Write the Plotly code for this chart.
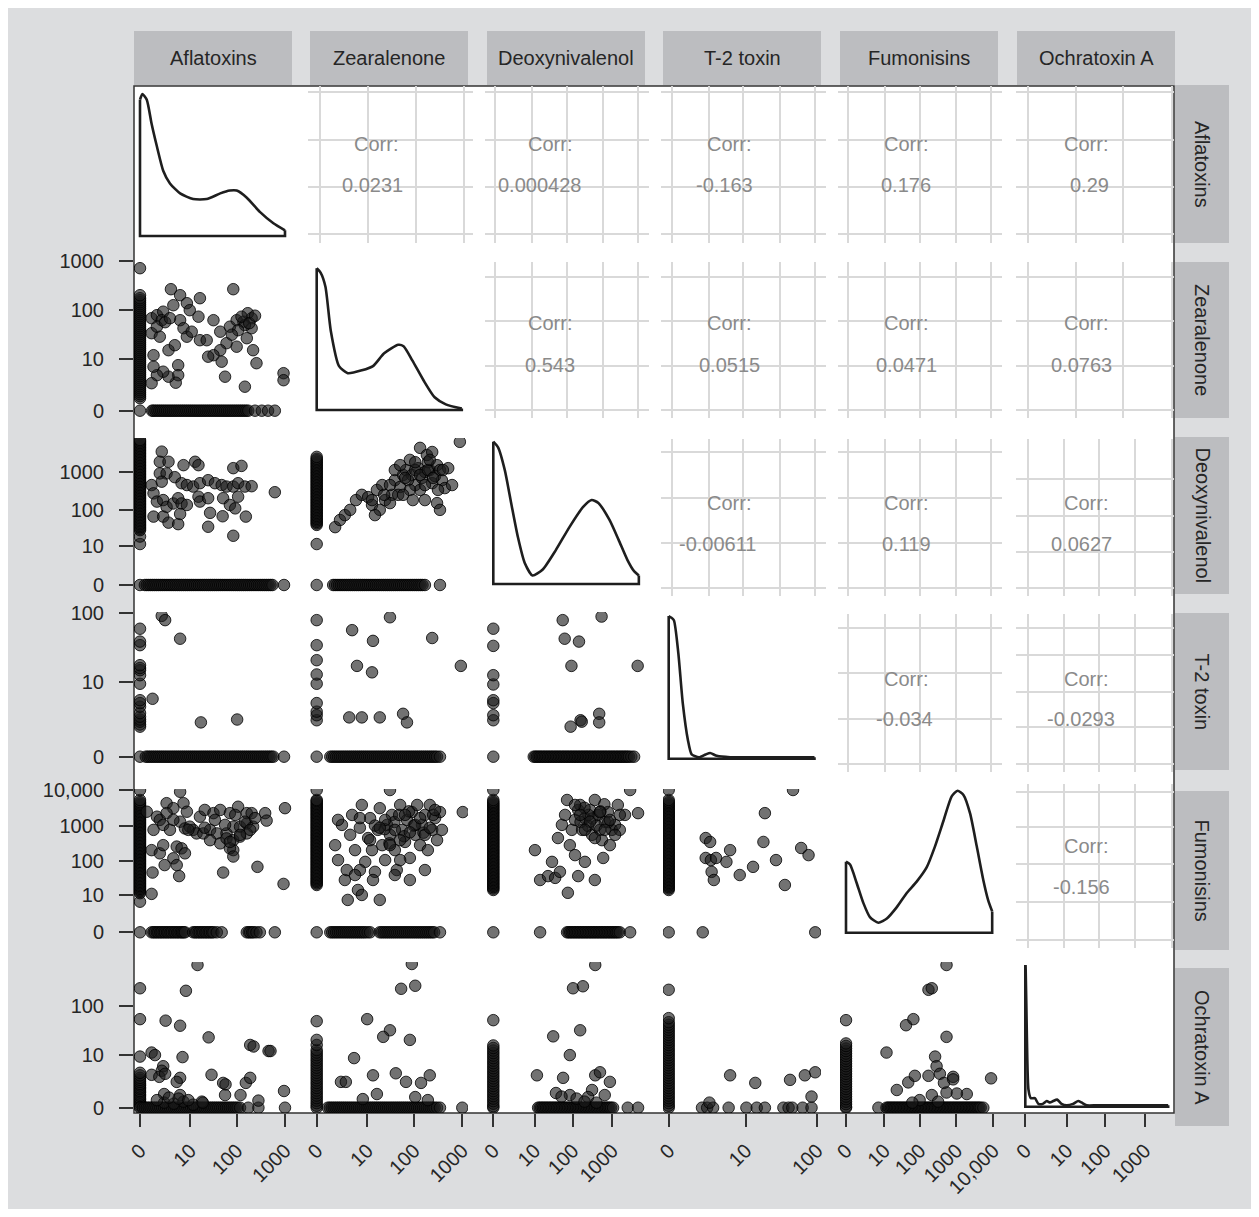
import numpy as np
import plotly.graph_objects as go

# page is 1259x1217; the browser body keeps an 8px margin, so the figure itself is 16px smaller
OFF = 8
W, H = 1259 - 2 * OFF, 1217 - 2 * OFF

# ---------------- labels ----------------
variables = ["Aflatoxins", "Zearalenone", "Deoxynivalenol", "T-2 toxin", "Fumonisins", "Ochratoxin A"]
tick_afla = [0, 10, 100, 1000]
tick_zea = [0, 10, 100, 1000]
tick_don = [0, 10, 100, 1000]
tick_t2 = [0, 10, 100]
tick_fum = [0, 10, 100, 1000, 10000]
tick_ota = [0, 10, 100, 1000]

corr_cells = [(0, 1), (0, 2), (0, 3), (0, 4), (0, 5), (1, 2), (1, 3), (1, 4), (1, 5),
              (2, 3), (2, 4), (2, 5), (3, 4), (3, 5), (4, 5)]
corr_values = ["0.0231", "0.000428", "-0.163", "0.176", "0.29", "0.543", "0.0515", "0.0471", "0.0763",
               "-0.00611", "0.119", "0.0627", "-0.034", "-0.0293", "-0.156"]

# ---------------- data: all values are log10(concentration + 1) ----------------
dens_afla_x = [0, 0.05, 0.14, 0.24, 0.35, 0.48, 0.62, 0.83, 1.10, 1.38, 1.66, 1.86, 2.00, 2.21, 2.48, 2.76, 3.00]
dens_afla_y = [0.96, 1.0, 0.96, 0.79, 0.63, 0.46, 0.37, 0.30, 0.26, 0.26, 0.30, 0.32, 0.32, 0.27, 0.17, 0.09, 0.04]
dens_zea_x = [0, 0.08, 0.18, 0.29, 0.46, 0.64, 0.93, 1.16, 1.39, 1.68, 1.79, 1.97, 2.20, 2.43, 2.66, 2.99]
dens_zea_y = [1.0, 0.97, 0.87, 0.56, 0.31, 0.26, 0.28, 0.31, 0.40, 0.46, 0.45, 0.35, 0.21, 0.09, 0.04, 0.01]
dens_don_x = [0, 0.12, 0.29, 0.45, 0.62, 0.79, 0.99, 1.24, 1.58, 1.92, 2.26, 2.48, 2.65, 2.93, 3.16, 3.38, 3.55, 3.67]
dens_don_y = [1.0, 0.96, 0.80, 0.57, 0.33, 0.15, 0.06, 0.10, 0.24, 0.40, 0.54, 0.59, 0.57, 0.45, 0.31, 0.17, 0.09, 0.06]
dens_t2_x = [0, 0.03, 0.07, 0.13, 0.19, 0.26, 0.31, 0.41, 0.50, 0.56, 0.65, 0.83, 1.20, 1.60, 1.97]
dens_t2_y = [1.0, 0.99, 0.97, 0.74, 0.39, 0.13, 0.03, 0.01, 0.03, 0.04, 0.02, 0.01, 0.01, 0.01, 0.01]
dens_fum_x = [0, 0.11, 0.29, 0.47, 0.65, 0.88, 1.11, 1.38, 1.65, 1.92, 2.19, 2.42, 2.65, 2.87, 3.03, 3.19, 3.37, 3.55, 3.73, 3.86, 3.97]
dens_fum_y = [0.50, 0.48, 0.35, 0.21, 0.11, 0.07, 0.10, 0.18, 0.28, 0.36, 0.46, 0.61, 0.79, 0.96, 1.0, 0.97, 0.84, 0.61, 0.37, 0.23, 0.15]
dens_ota_x = [0, 0.01, 0.04, 0.08, 0.14, 0.24, 0.33, 0.44, 0.54, 0.62, 0.70, 0.80, 0.91, 1.04, 1.20, 1.33, 1.41, 1.54, 1.79, 2.13, 2.38, 2.88, 3.01, 3.13, 3.59]
dens_ota_y = [1.0, 0.96, 0.49, 0.12, 0.06, 0.06, 0.02, 0.02, 0.04, 0.03, 0.04, 0.05, 0.02, 0.01, 0.02, 0.04, 0.03, 0.01, 0.01, 0.01, 0.01, 0.01, 0.01, 0.01, 0.01]

# ---- Zearalenone (y) vs Aflatoxins (x); *_x0: y values where x = 0, *_y0: x values where y = 0
zea_afla_x0 = [0, 0.25, 0.29, 0.33, 0.37, 0.41, 0.45, 0.49, 0.53, 0.57, 0.61, 0.65, 0.69, 0.73, 0.77, 0.81, 0.85,
               0.89, 0.93, 0.97, 1.01, 1.05, 1.09, 1.13, 1.17, 1.21, 1.25, 1.29, 1.33, 1.37, 1.41, 1.45, 1.49, 1.53,
               1.57, 1.61, 1.65, 1.69, 1.73, 1.77, 1.81, 1.85, 1.89, 1.93, 1.97, 2.01, 2.05, 2.09, 2.13, 2.17, 2.21,
               2.25, 2.31, 2.85]
zea_afla_y0 = [0.25, 0.28, 0.32, 0.36, 0.40, 0.44, 0.48, 0.52, 0.56, 0.60, 0.64, 0.68, 0.72, 0.76, 0.80, 0.84, 0.88,
               0.92, 0.96, 1.00, 1.04, 1.08, 1.12, 1.16, 1.20, 1.24, 1.28, 1.32, 1.36, 1.40, 1.44, 1.48, 1.52, 1.56,
               1.60, 1.64, 1.68, 1.72, 1.76, 1.80, 1.84, 1.88, 1.92, 1.96, 2.00, 2.04, 2.08, 2.12, 2.16, 2.20, 2.24,
               2.38, 2.52, 2.65, 2.79]
zea_afla_pts = [(0.64, 2.43), (0.83, 2.31), (1.24, 2.25), (1.93, 2.43), (0.69, 2.11), (0.97, 2.15), (1.03, 2.01),
                (1.21, 1.88), (1.52, 1.81), (0.24, 1.85), (0.35, 1.91), (0.48, 1.98), (0.45, 1.81), (0.83, 1.81),
                (0.90, 1.65), (0.97, 1.48), (1.07, 1.58), (1.24, 1.41), (1.38, 1.41), (1.66, 1.58), (1.86, 1.68),
                (2.00, 1.81), (2.14, 1.78), (2.31, 1.85), (2.31, 1.65), (2.21, 1.45), (2.00, 1.28), (1.79, 1.35),
                (1.66, 1.21), (1.69, 0.98), (1.52, 1.11), (1.41, 1.08), (2.34, 1.21), (2.41, 0.95), (2.17, 0.48),
                (1.76, 0.68), (0.79, 0.91), (0.79, 0.71), (0.74, 0.56), (0.59, 0.68), (0.48, 0.78), (0.35, 0.71),
                (0.24, 0.55), (0.28, 0.88), (0.28, 1.11), (0.59, 1.21), (0.72, 1.31), (0.24, 1.55), (0.41, 1.48),
                (0.35, 1.68), (2.97, 0.75), (2.97, 0.61), (2.23, 1.95), (2.17, 1.71), (2.03, 1.61), (0.52, 1.77),
                (0.62, 1.85), (2.10, 1.88), (2.26, 1.75), (2.38, 1.90), (1.90, 1.52)]

# ---- Deoxynivalenol (y) vs Aflatoxins (x)
don_afla_x0 = [0, 1.09, 1.29, 1.46, 1.50, 1.54, 1.58, 1.62, 1.66, 1.70, 1.74, 1.78, 1.82, 1.86, 1.90, 1.94, 1.98,
               2.02, 2.06, 2.10, 2.14, 2.18, 2.22, 2.26, 2.30, 2.34, 2.38, 2.42, 2.46, 2.50, 2.54, 2.58, 2.62, 2.66,
               2.70, 2.74, 2.78, 2.82, 2.86, 2.90, 2.94, 2.98, 3.02, 3.06, 3.10, 3.14, 3.18, 3.22, 3.26, 3.30, 3.34,
               3.38, 3.42, 3.46, 3.50, 3.54, 3.58, 3.62, 3.66, 3.70, 3.74, 3.78, 3.82, 3.86]
don_afla_y0 = [0.10, 0.14, 0.18, 0.22, 0.26, 0.30, 0.34, 0.38, 0.42, 0.46, 0.50, 0.54, 0.58, 0.62, 0.66, 0.70, 0.74,
               0.78, 0.82, 0.86, 0.90, 0.94, 0.98, 1.02, 1.06, 1.10, 1.14, 1.18, 1.22, 1.26, 1.30, 1.34, 1.38, 1.42,
               1.46, 1.50, 1.54, 1.58, 1.62, 1.66, 1.70, 1.74, 1.78, 1.82, 1.86, 1.90, 1.94, 1.98, 2.02, 2.06, 2.10,
               2.14, 2.18, 2.22, 2.26, 2.30, 2.34, 2.38, 2.42, 2.46, 2.50, 2.54, 2.58, 2.62, 2.66, 2.70, 2.74, 2.98]
don_afla_pts = [(0.45, 3.55), (0.41, 3.28), (0.59, 3.28), (0.90, 3.19), (1.14, 3.28), (1.21, 3.19), (1.93, 3.11),
                (2.10, 3.17), (0.41, 2.97), (0.55, 2.97), (0.24, 2.66), (0.45, 2.75), (0.72, 2.87), (0.86, 2.71),
                (0.97, 2.66), (1.10, 2.62), (1.24, 2.71), (1.41, 2.79), (1.55, 2.71), (1.69, 2.66), (1.79, 2.62),
                (1.93, 2.62), (2.03, 2.71), (2.17, 2.62), (2.31, 2.63), (2.79, 2.47), (0.28, 2.44), (0.35, 2.22),
                (0.48, 2.26), (0.55, 2.08), (0.69, 2.17), (0.79, 2.31), (0.86, 2.17), (0.97, 2.13), (0.28, 1.82),
                (0.48, 1.82), (0.59, 1.66), (0.79, 1.62), (0.83, 1.89), (1.21, 2.35), (1.24, 2.22), (1.41, 2.31),
                (1.45, 1.92), (1.41, 1.55), (1.71, 1.83), (1.72, 2.31), (1.86, 2.13), (1.97, 2.04), (1.93, 1.31),
                (2.19, 1.82), (2.03, 2.35)]

# ---- T-2 toxin (y) vs Aflatoxins (x)
t2_afla_x0 = [0, 0.42, 0.45, 0.49, 0.52, 0.56, 0.61, 0.70, 0.75, 0.79, 1.02, 1.14, 1.21, 1.24, 1.28, 1.56, 1.61, 1.79]
t2_afla_y0 = [0.12, 0.16, 0.20, 0.24, 0.28, 0.32, 0.36, 0.40, 0.44, 0.48, 0.52, 0.56, 0.60, 0.64, 0.68, 0.72, 0.76,
              0.80, 0.84, 0.88, 0.92, 0.96, 1.00, 1.04, 1.08, 1.12, 1.16, 1.20, 1.24, 1.28, 1.32, 1.36, 1.40, 1.44,
              1.48, 1.52, 1.56, 1.60, 1.64, 1.68, 1.72, 1.76, 1.80, 1.84, 1.88, 1.92, 1.96, 2.00, 2.04, 2.08, 2.12,
              2.16, 2.20, 2.24, 2.28, 2.32, 2.36, 2.40, 2.44, 2.48, 2.52, 2.56, 2.60, 2.64, 2.68, 2.72, 2.76, 2.98]
t2_afla_pts = [(0.45, 1.97), (0.52, 1.91), (0.83, 1.65), (0.26, 0.81), (1.26, 0.48), (2.01, 0.52)]

# ---- Fumonisins (y) vs Aflatoxins (x)
fum_afla_x0 = [0, 0.86, 1.10, 1.14, 1.18, 1.22, 1.26, 1.30, 1.34, 1.38, 1.42, 1.46, 1.50, 1.54, 1.58, 1.62, 1.66,
               1.70, 1.74, 1.78, 1.82, 1.86, 1.90, 1.94, 1.98, 2.02, 2.06, 2.10, 2.14, 2.18, 2.22, 2.26, 2.30, 2.34,
               2.38, 2.42, 2.46, 2.50, 2.54, 2.58, 2.62, 2.66, 2.70, 2.74, 2.78, 2.82, 2.86, 2.90, 2.94, 2.98, 3.02,
               3.06, 3.10, 3.14, 3.18, 3.22, 3.26, 3.30, 3.34, 3.38, 3.42, 3.46, 3.50, 3.54, 3.58, 3.62, 3.66, 3.72,
               4.00]
fum_afla_y0 = [0.24, 0.28, 0.31, 0.35, 0.38, 0.42, 0.45, 0.49, 0.52, 0.56, 0.59, 0.63, 0.66, 0.70, 0.73, 0.77, 0.80,
               0.84, 0.87, 0.90, 0.93, 1.10, 1.14, 1.17, 1.21, 1.24, 1.28, 1.31, 1.35, 1.38, 1.42, 1.45, 1.49, 1.52,
               1.59, 1.69, 2.21, 2.25, 2.28, 2.32, 2.35, 2.41, 2.48, 2.79]
fum_afla_pts = [(0.14, 3.39), (0.35, 3.25), (0.55, 3.63), (0.69, 3.49), (0.83, 3.95), (0.90, 3.63), (0.97, 3.39),
                (0.41, 3.16), (0.48, 3.02), (0.28, 2.88), (0.62, 2.88), (0.83, 3.11), (0.93, 2.92), (1.10, 2.88),
                (1.24, 3.25), (1.34, 3.44), (1.52, 3.35), (1.66, 3.44), (1.86, 3.35), (2.03, 3.53), (2.21, 3.35),
                (2.31, 3.35), (2.59, 3.35), (2.62, 3.14), (3.00, 3.49), (1.03, 2.97), (1.17, 2.78), (1.31, 2.78),
                (1.45, 2.88), (1.59, 2.78), (1.79, 2.78), (1.93, 2.97), (2.07, 2.97), (2.21, 3.06), (2.34, 2.97),
                (1.45, 2.59), (1.66, 2.50), (1.79, 2.64), (1.93, 2.59), (2.07, 2.69), (2.21, 2.78), (1.93, 2.31),
                (1.86, 2.36), (1.93, 2.13), (0.24, 2.31), (0.41, 2.22), (0.48, 2.45), (0.76, 2.41), (0.86, 2.36),
                (0.93, 2.22), (0.69, 2.08), (0.76, 1.89), (0.51, 1.89), (0.26, 1.68), (0.81, 1.58), (1.72, 1.68),
                (2.43, 1.84), (2.97, 1.36), (0.24, 1.08), (1.00, 2.88), (0.55, 3.35), (0.69, 3.16),
                (1.55, 3.16), (1.76, 3.02), (1.97, 3.30), (2.17, 3.11), (2.38, 3.21), (2.07, 2.74), (2.28, 2.88),
                (1.34, 2.94), (1.86, 2.54)]

# ---- Ochratoxin A (y) vs Aflatoxins (x)
ota_afla_x0 = [0.02, 0.05, 0.09, 0.12, 0.16, 0.19, 0.23, 0.26, 0.30, 0.33, 0.37, 0.40, 0.44, 0.47, 0.51, 0.55, 0.59,
               0.64, 0.69, 1.01, 1.75, 2.36]
ota_afla_y0 = [0, 0.06, 0.10, 0.14, 0.18, 0.22, 0.26, 0.30, 0.34, 0.38, 0.42, 0.46, 0.50, 0.54, 0.58, 0.62, 0.66,
               0.70, 0.74, 0.78, 0.82, 0.86, 0.90, 0.94, 0.98, 1.02, 1.06, 1.10, 1.14, 1.18, 1.22, 1.26, 1.30, 1.34,
               1.38, 1.42, 1.46, 1.50, 1.54, 1.58, 1.62, 1.66, 1.70, 1.74, 1.78, 1.82, 1.86, 1.90, 1.94, 1.98, 2.02,
               2.07, 2.24, 2.45, 3.00]
ota_afla_pts = [(1.19, 2.82), (0.95, 2.31), (0.53, 1.72), (0.83, 1.62), (1.42, 1.39), (0.88, 1.00), (0.24, 1.09),
                (0.31, 1.04), (2.28, 1.24), (2.35, 1.21), (2.66, 1.12), (2.70, 1.12), (0.48, 0.82), (0.45, 0.73),
                (0.24, 0.65), (0.40, 0.61), (0.52, 0.67), (0.83, 0.59), (0.76, 0.51), (1.48, 0.65), (1.72, 0.49),
                (1.77, 0.46), (1.76, 0.25), (2.08, 0.25), (2.19, 0.49), (2.28, 0.59), (2.45, 0.14), (2.98, 0.33),
                (0.50, 0.27), (0.83, 0.25), (1.28, 0.12), (0.50, 0.10), (0.70, 0.08), (0.90, 0.12), (1.10, 0.06),
                (1.30, 0.10), (0.35, 0.15), (0.60, 0.20), (0.80, 0.18), (1.00, 0.15)]

# ---- Deoxynivalenol (y) vs Zearalenone (x)
don_zea_x0 = [0, 1.09, 1.60, 1.64, 1.68, 1.72, 1.76, 1.80, 1.84, 1.88, 1.92, 1.96, 2.00, 2.04, 2.08, 2.12, 2.16,
              2.20, 2.24, 2.28, 2.32, 2.36, 2.40, 2.44, 2.48, 2.52, 2.56, 2.60, 2.64, 2.68, 2.72, 2.76, 2.80, 2.84,
              2.88, 2.92, 2.96, 3.00, 3.04, 3.08, 3.12, 3.16, 3.20, 3.24, 3.28, 3.32, 3.36, 3.41]
don_zea_y0 = [0.34, 0.38, 0.42, 0.46, 0.50, 0.54, 0.58, 0.62, 0.66, 0.70, 0.74, 0.78, 0.82, 0.86, 0.90, 0.94, 0.98,
              1.02, 1.06, 1.10, 1.14, 1.18, 1.22, 1.26, 1.30, 1.34, 1.38, 1.42, 1.46, 1.50, 1.54, 1.58, 1.62, 1.66,
              1.70, 1.74, 1.78, 1.82, 1.86, 1.90, 1.94, 1.98, 2.02, 2.06, 2.10, 2.14, 2.18, 2.23, 2.54]
don_zea_pts = [(0.38, 1.54), (0.48, 1.73), (0.58, 1.86), (0.69, 2.00), (0.81, 2.26), (0.93, 2.40), (1.06, 2.34),
               (1.14, 2.13), (1.24, 2.53), (1.35, 2.66), (1.41, 2.26), (1.55, 2.40), (1.61, 2.79), (1.72, 2.61),
               (1.78, 2.93), (1.84, 3.06), (1.92, 3.33), (1.96, 2.93), (2.03, 2.66), (2.09, 3.11), (2.13, 2.53),
               (2.17, 2.85), (2.23, 3.01), (2.29, 3.27), (2.33, 3.06), (2.38, 2.71), (2.44, 2.90), (2.48, 3.19),
               (2.54, 3.06), (2.58, 2.79), (2.64, 2.58), (1.30, 2.00), (1.51, 2.18), (1.68, 2.40), (1.88, 2.79),
               (2.03, 3.06), (2.23, 2.26), (2.48, 2.18), (2.54, 2.00), (2.71, 3.11), (2.79, 2.66), (2.95, 3.81),
               (1.20, 1.86), (2.13, 3.65), (2.27, 3.46), (2.38, 3.54),
               (1.61, 3.06), (1.72, 3.19), (1.82, 2.85), (1.92, 2.53), (2.03, 3.27), (2.13, 2.93), (2.23, 2.66),
               (2.29, 3.06), (2.40, 2.85), (2.50, 2.53), (2.60, 3.06), (1.98, 2.26), (1.78, 2.40), (1.51, 2.66),
               (1.39, 2.40), (1.14, 2.26), (2.33, 3.33)]

# ---- T-2 toxin (y) vs Zearalenone (x)
t2_zea_x0 = [0, 0.51, 0.58, 0.63, 0.75, 1.02, 1.15, 1.35, 1.56, 1.91]
t2_zea_y0 = [0.28, 0.32, 0.36, 0.40, 0.44, 0.48, 0.52, 0.56, 0.60, 0.64, 0.68, 0.72, 0.76, 0.80, 0.84, 0.88, 0.92,
             0.96, 1.00, 1.04, 1.08, 1.12, 1.16, 1.20, 1.24, 1.28, 1.32, 1.36, 1.40, 1.44, 1.48, 1.52, 1.56, 1.60,
             1.64, 1.68, 1.72, 1.76, 1.80, 1.84, 1.88, 1.92, 1.96, 2.00, 2.04, 2.08, 2.12, 2.16, 2.20, 2.24, 2.28,
             2.32, 2.36, 2.40, 2.44, 2.48, 2.54]
t2_zea_pts = [(0.73, 1.77), (1.51, 1.95), (1.16, 1.62), (0.83, 1.27), (1.14, 1.18), (0.67, 0.55), (0.93, 0.55),
              (1.30, 0.55), (1.78, 0.60), (1.86, 0.48), (2.38, 1.66), (2.97, 1.27)]

# ---- Fumonisins (y) vs Zearalenone (x)
fum_zea_x0 = [0, 1.33, 1.37, 1.41, 1.45, 1.49, 1.53, 1.57, 1.61, 1.65, 1.69, 1.73, 1.77, 1.81, 1.85, 1.89, 1.93,
              1.97, 2.01, 2.05, 2.09, 2.13, 2.17, 2.21, 2.25, 2.29, 2.33, 2.37, 2.41, 2.45, 2.49, 2.53, 2.57, 2.61,
              2.65, 2.69, 2.73, 2.77, 2.81, 2.85, 2.89, 2.93, 2.97, 3.01, 3.05, 3.09, 3.13, 3.17, 3.21, 3.25, 3.29,
              3.33, 3.37, 3.41, 3.45, 3.49, 3.53, 3.57, 3.61, 3.65, 3.69, 3.72, 4.00]
fum_zea_y0 = [0.28, 0.32, 0.36, 0.40, 0.44, 0.48, 0.52, 0.56, 0.60, 0.64, 0.68, 0.72, 0.76, 0.80, 0.84, 0.88, 0.92,
              0.96, 1.00, 1.05, 1.10, 1.30, 1.34, 1.38, 1.42, 1.46, 1.50, 1.54, 1.58, 1.62, 1.66, 1.70, 1.74, 1.78,
              1.82, 1.86, 1.90, 1.94, 1.98, 2.02, 2.06, 2.10, 2.14, 2.18, 2.22, 2.26, 2.30, 2.34, 2.38, 2.42, 2.54]
fum_zea_pts = [(0.38, 2.45), (0.44, 2.03), (0.52, 3.02), (0.58, 1.47), (0.62, 1.75), (0.69, 2.74), (0.73, 3.30),
               (0.79, 2.31), (0.85, 1.19), (0.89, 2.94), (0.93, 3.58), (1.00, 1.98), (1.06, 2.65), (1.10, 3.21),
               (1.14, 2.31), (1.20, 1.70), (1.26, 2.88), (1.30, 3.49), (1.35, 2.45), (1.41, 2.03), (1.45, 3.02),
               (1.51, 2.74), (1.55, 3.30), (1.61, 2.31), (1.65, 1.75), (1.72, 3.58), (1.76, 2.88), (1.82, 2.54),
               (1.86, 3.16), (1.92, 2.09), (1.96, 3.38), (2.03, 2.74), (2.07, 3.58), (2.13, 2.45), (2.17, 3.02),
               (2.23, 3.30), (2.29, 2.31), (2.33, 3.58), (2.38, 2.88), (2.44, 3.21), (2.48, 2.59), (2.54, 3.38),
               (2.58, 2.88), (0.93, 1.05), (1.16, 1.47), (1.61, 1.61), (0.89, 1.75), (0.64, 0.91), (1.30, 0.91),
               (0.79, 1.61), (0.44, 3.16), (1.72, 2.03), (1.51, 4.00), (3.01, 3.38), (2.23, 1.75), (1.92, 1.47),
               (1.40, 2.90), (1.60, 3.10), (1.80, 2.70), (2.00, 3.00), (1.20, 3.00), (1.70, 3.30), (2.20, 2.80),
               (2.40, 3.30), (1.90, 3.40), (1.50, 2.50),
               (1.41, 3.16), (1.61, 2.88), (1.82, 3.30), (2.03, 3.02), (2.23, 2.74), (1.72, 2.59), (1.92, 2.81),
               (2.13, 3.21), (2.33, 2.94), (1.51, 2.45), (1.30, 2.94), (1.10, 2.59), (2.44, 3.44), (0.89, 3.21)]

# ---- Ochratoxin A (y) vs Zearalenone (x)
ota_zea_x0 = [0, 0.04, 0.09, 0.14, 0.19, 0.24, 0.29, 0.34, 0.39, 0.44, 0.49, 0.54, 0.59, 0.64, 0.69, 0.74, 0.79,
              0.84, 0.89, 0.94, 0.99, 1.04, 1.09, 1.14, 1.24, 1.34, 1.71]
ota_zea_y0 = [0.23, 0.27, 0.31, 0.35, 0.39, 0.43, 0.47, 0.51, 0.55, 0.59, 0.63, 0.67, 0.71, 0.75, 0.79, 0.83, 0.87,
              0.91, 0.95, 0.99, 1.03, 1.07, 1.11, 1.15, 1.19, 1.23, 1.27, 1.31, 1.35, 1.39, 1.43, 1.47, 1.51, 1.55,
              1.59, 1.63, 1.67, 1.71, 1.75, 1.79, 1.83, 1.87, 1.91, 1.95, 1.99, 2.03, 2.07, 2.11, 2.15, 2.19, 2.23,
              2.27, 2.31, 2.35, 2.39, 2.43, 2.48, 2.54, 3.00]
ota_zea_pts = [(1.96, 2.84), (1.74, 2.35), (2.03, 2.41), (1.04, 1.75), (1.51, 1.53), (1.37, 1.40), (1.92, 1.34),
               (0.50, 0.51), (0.60, 0.51), (0.77, 0.98), (1.16, 0.64), (1.63, 0.68), (1.84, 0.51), (2.15, 0.49),
               (2.33, 0.64), (2.03, 0.21), (2.29, 0.15), (1.24, 0.27), (0.95, 0.17)]

# ---- T-2 toxin (y) vs Deoxynivalenol (x)
t2_don_x0 = [0, 0.51, 0.58, 0.75, 0.79, 1.01, 1.14, 1.55, 1.79]
t2_don_y0 = [1.02, 1.06, 1.10, 1.14, 1.18, 1.22, 1.26, 1.30, 1.34, 1.38, 1.42, 1.46, 1.50, 1.54, 1.58, 1.62, 1.66,
             1.70, 1.74, 1.78, 1.82, 1.86, 1.90, 1.94, 1.98, 2.02, 2.06, 2.10, 2.14, 2.18, 2.22, 2.26, 2.30, 2.34,
             2.38, 2.42, 2.46, 2.50, 2.54, 2.58, 2.62, 2.66, 2.70, 2.74, 2.78, 2.82, 2.86, 2.90, 2.94, 2.98, 3.02,
             3.06, 3.10, 3.14, 3.18, 3.22, 3.26, 3.30, 3.34, 3.38, 3.42, 3.48, 3.55]
t2_don_pts = [(1.75, 1.91), (2.73, 1.96), (1.80, 1.65), (2.16, 1.61), (1.97, 1.27), (3.64, 1.27), (2.20, 0.51),
              (1.95, 0.42), (2.67, 0.60), (2.67, 0.48), (2.23, 0.49)]

# ---- Fumonisins (y) vs Deoxynivalenol (x)
fum_don_x0 = [0, 1.19, 1.23, 1.27, 1.31, 1.35, 1.39, 1.43, 1.47, 1.51, 1.55, 1.59, 1.63, 1.67, 1.71, 1.75, 1.79,
              1.83, 1.87, 1.91, 1.95, 1.99, 2.03, 2.07, 2.11, 2.15, 2.19, 2.23, 2.27, 2.31, 2.35, 2.39, 2.43, 2.47,
              2.51, 2.55, 2.59, 2.63, 2.67, 2.71, 2.75, 2.79, 2.83, 2.87, 2.91, 2.95, 2.99, 3.03, 3.07, 3.11, 3.15,
              3.19, 3.23, 3.27, 3.31, 3.35, 3.39, 3.43, 3.47, 3.51, 3.55, 3.59, 3.63, 3.67, 3.72, 4.00]
fum_don_y0 = [1.18, 1.86, 1.90, 1.94, 1.98, 2.02, 2.06, 2.10, 2.14, 2.18, 2.22, 2.26, 2.30, 2.34, 2.38, 2.42, 2.46,
              2.50, 2.54, 2.58, 2.62, 2.66, 2.70, 2.74, 2.78, 2.82, 2.86, 2.90, 2.94, 2.98, 3.02, 3.06, 3.10, 3.14,
              3.19, 3.45]
fum_don_pts = [(1.05, 2.31), (1.18, 1.47), (1.38, 1.58), (1.48, 1.98), (1.56, 1.53), (1.63, 2.65), (1.73, 3.02),
               (1.81, 3.30), (1.86, 3.72), (1.93, 2.45), (1.98, 2.88), (2.06, 3.16), (2.14, 3.44), (2.19, 3.58),
               (2.24, 2.88), (2.31, 3.21), (2.39, 2.99), (2.44, 3.44), (2.49, 2.74), (2.56, 3.72), (2.64, 3.30),
               (2.69, 2.88), (2.74, 2.59), (2.81, 3.11), (2.89, 3.38), (2.94, 2.45), (2.99, 2.88), (3.07, 3.02),
               (3.14, 3.58), (3.19, 2.88), (3.32, 3.30), (3.45, 4.00), (3.65, 3.35), (2.06, 2.17), (2.31, 1.98),
               (2.56, 1.47), (1.88, 1.11), (1.68, 1.70), (2.14, 1.58), (2.77, 2.09), (2.20, 3.10), (2.50, 3.20),
               (2.60, 3.00), (2.40, 3.30), (2.70, 3.40), (2.90, 3.10), (2.30, 3.50), (2.80, 3.60),
               (2.19, 3.30), (2.44, 3.11), (2.69, 3.38), (2.94, 3.16), (2.31, 2.88), (2.56, 2.65), (2.81, 2.88),
               (3.07, 2.74), (2.06, 3.58), (3.19, 3.30)]

# ---- Ochratoxin A (y) vs Deoxynivalenol (x)
ota_don_x0 = [0, 0.03, 0.08, 0.13, 0.18, 0.23, 0.28, 0.33, 0.38, 0.43, 0.48, 0.53, 0.58, 0.63, 0.68, 0.73, 0.78,
              0.83, 0.88, 0.93, 0.98, 1.03, 1.08, 1.13, 1.18, 1.23, 1.73]
ota_don_y0 = [1.13, 1.17, 1.21, 1.25, 1.29, 1.33, 1.37, 1.41, 1.45, 1.49, 1.53, 1.57, 1.61, 1.65, 1.69, 1.73, 1.77,
              1.81, 1.85, 1.89, 1.93, 1.97, 2.01, 2.05, 2.09, 2.13, 2.17, 2.21, 2.25, 2.29, 2.33, 2.37, 2.41, 2.45,
              2.49, 2.53, 2.57, 2.61, 2.65, 2.69, 2.73, 2.77, 2.81, 2.85, 2.89, 2.93, 2.97, 3.02, 3.39, 3.65]
ota_don_pts = [(2.57, 2.82), (2.01, 2.36), (2.26, 2.40), (1.51, 1.41), (2.19, 1.53), (1.93, 1.04), (1.10, 0.64),
               (1.76, 0.59), (2.57, 0.64), (2.69, 0.70), (2.94, 0.51), (2.49, 0.35), (1.58, 0.29), (1.93, 0.25),
               (2.39, 0.21), (2.81, 0.25), (1.72, 0.22), (2.10, 0.18), (2.30, 0.12), (2.60, 0.10)]

# ---- Fumonisins (y) vs T-2 toxin (x)
fum_t2_x0 = [0, 1.19, 1.23, 1.27, 1.31, 1.35, 1.39, 1.43, 1.47, 1.51, 1.55, 1.59, 1.63, 1.67, 1.71, 1.75, 1.79,
             1.83, 1.87, 1.91, 1.95, 1.99, 2.03, 2.07, 2.11, 2.15, 2.19, 2.23, 2.27, 2.31, 2.35, 2.39, 2.43, 2.47,
             2.51, 2.55, 2.59, 2.63, 2.67, 2.71, 2.75, 2.79, 2.83, 2.87, 2.91, 2.95, 2.99, 3.03, 3.07, 3.11, 3.15,
             3.19, 3.23, 3.27, 3.31, 3.35, 3.39, 3.43, 3.47, 3.51, 3.55, 3.59, 3.63, 3.67, 3.72, 4.00]
fum_t2_y0 = [0.46, 1.98]
fum_t2_pts = [(0.50, 2.65), (0.56, 2.54), (0.50, 2.09), (0.57, 2.03), (0.64, 2.09), (0.58, 1.70), (0.61, 1.47),
              (0.78, 1.98), (0.83, 2.31), (0.96, 1.61), (1.14, 1.84), (1.28, 2.54), (1.45, 2.03), (1.57, 1.33),
              (1.68, 4.00), (1.30, 3.35), (1.79, 2.37), (1.89, 2.17)]

# ---- Ochratoxin A (y) vs T-2 toxin (x)
ota_t2_x0 = [0, 0.04, 0.09, 0.14, 0.19, 0.24, 0.29, 0.34, 0.39, 0.44, 0.49, 0.54, 0.59, 0.64, 0.69, 0.74, 0.79,
             0.84, 0.89, 0.94, 0.99, 1.04, 1.09, 1.14, 1.19, 1.24, 1.29, 1.34, 1.39, 1.44, 1.49, 1.54, 1.59, 1.64,
             1.69, 1.77, 2.33]
ota_t2_y0 = [0.45, 0.52, 0.60, 0.81, 1.05, 1.19, 1.30, 1.55, 1.62, 1.67, 1.81, 1.93]
ota_t2_pts = [(0.83, 0.64), (1.17, 0.49), (1.64, 0.55), (1.84, 0.64), (1.98, 0.70), (1.93, 0.22), (0.55, 0.10)]

# ---- Ochratoxin A (y) vs Fumonisins (x)
ota_fum_x0 = [0, 0.02, 0.07, 0.12, 0.17, 0.22, 0.27, 0.32, 0.37, 0.42, 0.47, 0.52, 0.57, 0.62, 0.67, 0.72, 0.77,
              0.82, 0.87, 0.92, 0.97, 1.02, 1.07, 1.12, 1.17, 1.22, 1.27, 1.73]
ota_fum_y0 = [0.88, 1.10, 1.14, 1.18, 1.22, 1.26, 1.30, 1.34, 1.38, 1.42, 1.46, 1.50, 1.54, 1.58, 1.62, 1.66, 1.70,
              1.74, 1.78, 1.82, 1.86, 1.90, 1.94, 1.98, 2.02, 2.06, 2.10, 2.14, 2.18, 2.22, 2.26, 2.30, 2.34, 2.38,
              2.42, 2.46, 2.50, 2.54, 2.58, 2.62, 2.66, 2.70, 2.74, 2.78, 2.82, 2.86, 2.90, 2.94, 2.98, 3.02, 3.06,
              3.10, 3.14, 3.18, 3.22, 3.26, 3.30, 3.34, 3.38, 3.42, 3.46, 3.50, 3.54, 3.58, 3.62, 3.66, 3.73]
ota_fum_pts = [(2.73, 2.82), (2.24, 2.33), (2.33, 2.36), (1.63, 1.63), (1.83, 1.75), (2.73, 1.40), (1.10, 1.09),
               (2.42, 1.01), (2.46, 0.82), (1.38, 0.35), (1.69, 0.50), (1.87, 0.63), (2.24, 0.63), (2.55, 0.67),
               (2.66, 0.49), (2.91, 0.61), (2.91, 0.56), (3.94, 0.58), (3.28, 0.27), (3.01, 0.28), (2.33, 0.25),
               (2.73, 0.30), (2.0, 0.15), (2.5, 0.12), (1.8, 0.1)]

# ---------------- layout geometry (page pixels) ----------------
col_px = [(134, 292), (310, 468), (487, 645), (663, 821), (840, 998), (1017, 1174)]
col_cal = [(140, 48.33), (316.7, 48.53), (493.3, 39.66), (668.7, 74.0), (846, 36.82), (1025.3, 39.8)]
row_px = [(86, 243), (259, 419), (438, 595), (612, 771), (789, 948), (962, 1113)]
row_cal = [None, (410.7, 50.0), (585, 37.57), (756.7, 71.5), (932.3, 35.57), (1107.7, 50.6)]
diag_cal = [(236, 142), (410, 141.7), (584, 142.3), (758.7, 142.7), (932.7, 142), (1106.7, 141.7)]
up_col_px = [None, (308, 473), (485, 649), (661, 826), (838, 1002), (1016, 1174)]
up_row_px = [(86, 243), (262, 418), (439, 596), (614, 772), (784, 948)]
strip_top = [(134, 292), (310, 468), (487, 645), (663, 821), (840, 998), (1017, 1175)]
strip_right = [(85, 243), (262, 418), (437, 594), (613, 770), (791, 950), (968, 1126)]


def up_vlines(i, j):
    if j == 1:
        return [319.6, 367.9, 415.6, 464.4]
    if j == 2:
        return [495.3, 532.3, 567.1, 603, 637.8]
    if j == 3:
        return [672, 709, 743.3, 779.8, 814.6]
    if j == 4:
        return [848.3, 885.3, 920.1, 956, 991.4]
    if i <= 1:
        return [1027.8, 1076.1, 1123.2, 1171.5]
    return [1027.8, 1064.4, 1099.2, 1135.4, 1172]


def up_hlines(i, j):
    if i == 0:
        return [92.3, 140, 186.7, 234]
    if i == 1:
        return [276.7, 320.7, 365.7, 410]
    if i == 2:
        return [479, 515.7, 551.7, 587.7] if j == 5 else [452.3, 497.7, 542.7, 587.7]
    if i == 3:
        return [628.3, 655, 691.7, 727.3, 764] if j == 5 else [628.3, 673.3, 718.7, 764]
    return [792.3, 826.7, 864.3, 902.3, 940]


corr_xy = {(0, 1): (376, 372), (0, 2): (550, 539), (0, 3): (729, 724), (0, 4): (906, 906), (0, 5): (1086, 1089),
           (1, 2): (550, 550), (1, 3): (729, 729), (1, 4): (906, 906), (1, 5): (1086, 1081),
           (2, 3): (729, 717), (2, 4): (906, 906), (2, 5): (1086, 1081),
           (3, 4): (906, 904), (3, 5): (1086, 1081), (4, 5): (1086, 1081)}
corr_row_y = [(144, 185), (323, 365), (503, 544), (679, 719), (846, 887)]

ticks_all = [tick_afla, tick_zea, tick_don, tick_t2, tick_fum, tick_ota]
dens = [(dens_afla_x, dens_afla_y), (dens_zea_x, dens_zea_y), (dens_don_x, dens_don_y),
        (dens_t2_x, dens_t2_y), (dens_fum_x, dens_fum_y), (dens_ota_x, dens_ota_y)]
lower = {
    (1, 0): (zea_afla_x0, zea_afla_y0, zea_afla_pts),
    (2, 0): (don_afla_x0, don_afla_y0, don_afla_pts),
    (3, 0): (t2_afla_x0, t2_afla_y0, t2_afla_pts),
    (4, 0): (fum_afla_x0, fum_afla_y0, fum_afla_pts),
    (5, 0): (ota_afla_x0, ota_afla_y0, ota_afla_pts),
    (2, 1): (don_zea_x0, don_zea_y0, don_zea_pts),
    (3, 1): (t2_zea_x0, t2_zea_y0, t2_zea_pts),
    (4, 1): (fum_zea_x0, fum_zea_y0, fum_zea_pts),
    (5, 1): (ota_zea_x0, ota_zea_y0, ota_zea_pts),
    (3, 2): (t2_don_x0, t2_don_y0, t2_don_pts),
    (4, 2): (fum_don_x0, fum_don_y0, fum_don_pts),
    (5, 2): (ota_don_x0, ota_don_y0, ota_don_pts),
    (4, 3): (fum_t2_x0, fum_t2_y0, fum_t2_pts),
    (5, 3): (ota_t2_x0, ota_t2_y0, ota_t2_pts),
    (5, 4): (ota_fum_x0, ota_fum_y0, ota_fum_pts),
}

FONT = "Liberation Sans, Arial, Helvetica, sans-serif"
TXT = "#262626"


def fx(p):
    return (p - OFF) / W


def fy(p):
    return 1 - (p - OFF) / H


def tv(vals):
    return list(np.log10(np.array(vals, dtype=float) + 1.0))


def tt(vals):
    return [f"{v:,}" if v >= 10000 else str(v) for v in vals]


fig = go.Figure()
layout = dict(width=W, height=H, autosize=False, margin=dict(l=0, r=0, t=0, b=0, autoexpand=False),
              paper_bgcolor="#dcdddf", plot_bgcolor="rgba(0,0,0,0)", showlegend=False,
              shapes=[], annotations=[])

layout["shapes"].append(dict(type="rect", xref="paper", yref="paper", x0=fx(134), x1=fx(1174), y0=fy(1113),
                             y1=fy(86), fillcolor="white", line=dict(color="#333333", width=1.5), layer="below"))
for j, (a, b) in enumerate(strip_top):
    layout["shapes"].append(dict(type="rect", xref="paper", yref="paper", x0=fx(a), x1=fx(b), y0=fy(85),
                                 y1=fy(31), fillcolor="#bcbdc0", line=dict(width=0), layer="below"))
    layout["annotations"].append(dict(xref="paper", yref="paper", x=fx((a + b) / 2), y=fy(58), text=variables[j],
                                      showarrow=False, font=dict(family=FONT, size=20, color=TXT),
                                      xanchor="center", yanchor="middle"))
for i, (a, b) in enumerate(strip_right):
    layout["shapes"].append(dict(type="rect", xref="paper", yref="paper", x0=fx(1175), x1=fx(1229), y0=fy(b),
                                 y1=fy(a), fillcolor="#bcbdc0", line=dict(width=0), layer="below"))
    layout["annotations"].append(dict(xref="paper", yref="paper", x=fx(1202), y=fy((a + b) / 2), text=variables[i],
                                      showarrow=False, textangle=90,
                                      font=dict(family=FONT, size=20, color=TXT),
                                      xanchor="center", yanchor="middle"))

marker = dict(size=11.5, color="rgba(28,28,28,0.62)", line=dict(color="rgba(0,0,0,0.8)", width=1))

for i in range(6):
    for j in range(6):
        n = i * 6 + j + 1
        xa = "xaxis" if n == 1 else f"xaxis{n}"
        ya = "yaxis" if n == 1 else f"yaxis{n}"
        xr = "x" if n == 1 else f"x{n}"
        yr = "y" if n == 1 else f"y{n}"
        base = dict(showgrid=False, zeroline=False, showline=False, ticks="", showticklabels=False,
                    fixedrange=True)
        xax = dict(base, anchor=yr)
        yax = dict(base, anchor=xr)
        if i < j:
            a, b = up_col_px[j]
            t, bt = up_row_px[i]
            xax.update(domain=[fx(a), fx(b)], range=[a, b], showgrid=True, tickvals=up_vlines(i, j),
                       gridcolor="#d9d9d9", gridwidth=1.5)
            yax.update(domain=[fy(bt), fy(t)], range=[bt, t], showgrid=True, tickvals=up_hlines(i, j),
                       gridcolor="#d9d9d9", gridwidth=1.5)
            k = corr_cells.index((i, j))
            cx, vx = corr_xy[(i, j)]
            cy, vy = corr_row_y[i]
            layout["annotations"].append(dict(xref="paper", yref="paper", x=fx(cx), y=fy(cy), text="Corr:",
                                              showarrow=False, font=dict(family=FONT, size=20, color="#8a8a8a"),
                                              xanchor="center", yanchor="middle"))
            layout["annotations"].append(dict(xref="paper", yref="paper", x=fx(vx), y=fy(vy), text=corr_values[k],
                                              showarrow=False, font=dict(family=FONT, size=20, color="#8a8a8a"),
                                              xanchor="center", yanchor="middle"))
            fig.add_trace(go.Scatter(x=[], y=[], xaxis=xr, yaxis=yr, hoverinfo="skip"))
        else:
            a, b = col_px[j]
            x0, s = col_cal[j]
            t, bt = row_px[i]
            xax.update(domain=[fx(a), fx(b)], range=[(a - x0) / s, (b - x0) / s])
            if i == j:
                base_px, u = diag_cal[i]
                yax.update(domain=[fy(bt), fy(t)], range=[-(bt - base_px) / u, (base_px - t) / u])
                dx, dy = dens[i]
                fig.add_trace(go.Scatter(x=dx, y=dy, mode="lines", xaxis=xr, yaxis=yr, hoverinfo="skip",
                                         line=dict(color="#1e1e1e", width=2.6, shape="spline", smoothing=0.6)))
                fig.add_trace(go.Scatter(x=[dx[-1], dx[-1], dx[0], dx[0]], y=[dy[-1], 0, 0, dy[0]],
                                         mode="lines", xaxis=xr, yaxis=yr, hoverinfo="skip",
                                         line=dict(color="#1e1e1e", width=2.6)))
            else:
                y0, sy = row_cal[i]
                yax.update(domain=[fy(bt), fy(t)], range=[(y0 - bt) / sy, (y0 - t) / sy])
                x0s, y0s, pts = lower[(i, j)]
                xs = [0.0] * len(x0s) + list(y0s) + [p[0] for p in pts]
                ys = list(x0s) + [0.0] * len(y0s) + [p[1] for p in pts]
                fig.add_trace(go.Scatter(x=xs, y=ys, mode="markers", marker=marker, xaxis=xr, yaxis=yr,
                                         hoverinfo="skip"))
            if i == 5:
                xax.update(ticks="outside", ticklen=13, tickwidth=1.5, tickcolor="#333333",
                           tickvals=tv(ticks_all[j]), ticktext=tt(ticks_all[j]), showticklabels=True,
                           tickangle=-45, ticklabelstandoff=4,
                           tickfont=dict(family=FONT, size=20, color=TXT))
            if j == 0 and i >= 1:
                yax.update(ticks="outside", ticklen=14, tickwidth=1.5, tickcolor="#333333",
                           tickvals=tv(ticks_all[i]), ticktext=tt(ticks_all[i]), showticklabels=True,
                           ticklabelstandoff=11,
                           tickfont=dict(family=FONT, size=20, color=TXT))
        layout[xa] = xax
        layout[ya] = yax

fig.update_layout(**layout)
fig.write_html("out.html", config={"displayModeBar": False})
